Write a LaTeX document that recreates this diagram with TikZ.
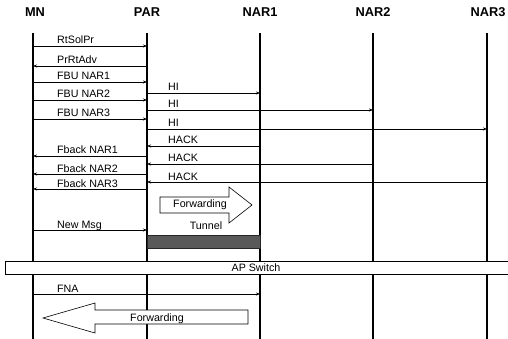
\documentclass[tikz,border=0pt]{standalone}
\usepackage{fontspec}
\setmainfont{Liberation Sans}
\usetikzlibrary{arrows.meta}

\tikzset{
  lifeline/.style={line width=1.1pt},
  msg/.style={line width=0.6pt,-{Stealth[length=4pt,width=3pt]}},
  lbl/.style={anchor=base west,inner sep=0pt,font=\fontsize{10.7}{12}\selectfont},
  entity/.style={font=\bfseries\fontsize{12.8}{14}\selectfont},
  bigarrow/.style={draw,line width=0.6pt,fill=white}
}

\begin{document}
\begin{tikzpicture}[x=1pt,y=-1pt]
  \useasboundingbox (0,0) rectangle (508,339);
  % Entities
  \node[entity] (mn) at (35,12) {MN};
  \node[entity] (par) at (147,12) {PAR};
  \node[entity] (nar1) at (260,12) {NAR1};
  \node[entity] (nar2) at (373,12) {NAR2};
  \node[entity] (nar3) at (488,12) {NAR3};
  % Lifelines
  \foreach \n/\x in {mn/33,par/147,nar1/260,nar2/373,nar3/487}
    \draw[lifeline] (\x,33) coordinate (\n-top) -- (\x,339) coordinate (\n-bot);
  % Messages
  \foreach \y/\a/\b/\t/\lx [count=\i] in {
      46/mn/par/RtSolPr/57, 66/par/mn/PrRtAdv/57,
      82/mn/par/FBU NAR1/57, 93/par/nar1/HI/168,
      100/mn/par/FBU NAR2/57, 110/par/nar2/HI/168,
      119/mn/par/FBU NAR3/57, 129/par/nar3/HI/168,
      146/nar1/par/HACK/168, 156/par/mn/Fback NAR1/57,
      164/nar2/par/HACK/168, 174/par/mn/Fback NAR2/57,
      182/nar3/par/HACK/168, 189/par/mn/Fback NAR3/57,
      230/mn/par/New Msg/57, 294/mn/nar1/FNA/57} {
    \draw[msg] (\a-top |- 0,\y) -- (\b-top |- 0,\y);
    \node[lbl] (m\i) at (\lx,\y-2) {\t};
  }
  % Forwarding towards NAR1
  \draw[bigarrow] (160,197) -- (229,197) -- (229,187) -- (252,205)
    -- (229,223) -- (229,213) -- (160,213) -- cycle;
  \node[lbl,anchor=center] (fwd1) at (200,205) {Forwarding};
  % Tunnel
  \node[lbl,anchor=center] (tun) at (206,226) {Tunnel};
  \filldraw[fill=black!65,draw=black!85] (par-top |- 0,235) rectangle (nar1-top |- 0,248);
  % AP switch bar
  \draw[fill=white,line width=0.6pt] (5,261) rectangle (512,274);
  \node[lbl,anchor=center] (aps) at (256,268) {AP Switch};
  % Forwarding back towards MN
  \draw[bigarrow] (43,318) -- (95,303) -- (95,310) -- (248,310)
    -- (248,324) -- (95,324) -- (95,333) -- cycle;
  \node[lbl,anchor=center] (fwd2) at (157,319) {Forwarding};
\end{tikzpicture}
\end{document}
